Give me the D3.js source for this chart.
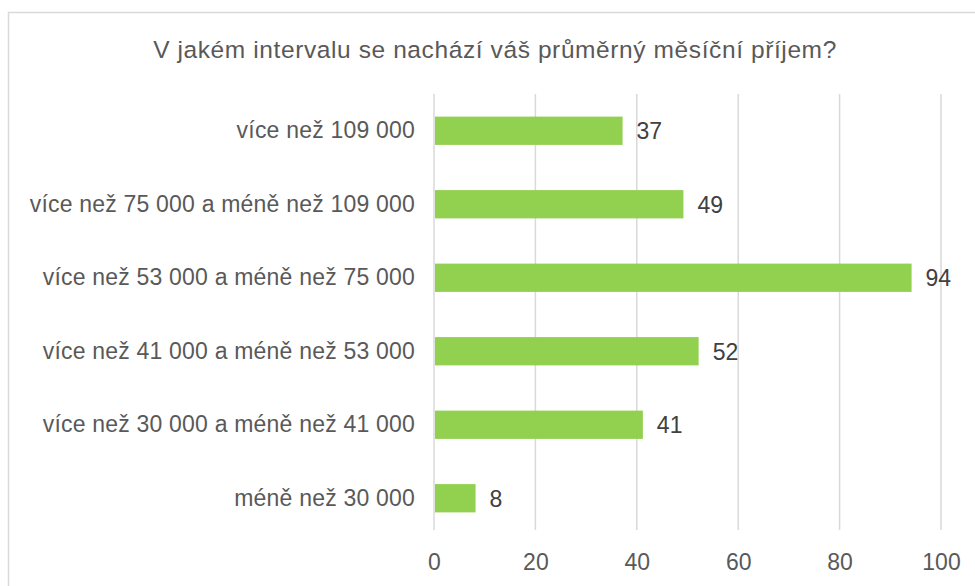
<!DOCTYPE html>
<html>
<head>
  <style>
    body { margin: 0; background: #fff; }
    svg { display: block; font-family: "Liberation Sans", Arial, sans-serif; }
  </style>
</head>
<body>
  <script src="https://cdn.jsdelivr.net/npm/d3@7/dist/d3.min.js"></script>
  <script>
    const title = 'V jakém intervalu se nachází váš průměrný měsíční příjem?';
    const categories = [
      'více než 109 000',
      'více než 75 000 a méně než 109 000',
      'více než 53 000 a méně než 75 000',
      'více než 41 000 a méně než 53 000',
      'více než 30 000 a méně než 41 000',
      'méně než 30 000'
    ];
    const values = [37, 49, 94, 52, 41, 8];
    const ticks = [0, 20, 40, 60, 80, 100];

    const width = 975;
    const height = 586;
    const margin = { top: 94, right: 34, bottom: 51, left: 434 };

    const svg = d3.select('body')
      .append('svg')
      .attr('width', width)
      .attr('height', height);

    // chart frame
    svg.append('rect')
      .attr('x', 8.5)
      .attr('y', 12.5)
      .attr('width', width + 10)
      .attr('height', height + 10)
      .attr('fill', 'none')
      .attr('stroke', '#d9d9d9')
      .attr('stroke-width', 1.5);

    svg.append('text')
      .attr('x', 495)
      .attr('y', 58)
      .attr('text-anchor', 'middle')
      .attr('fill', '#595959')
      .style('font-size', '24.5px')
      .style('letter-spacing', '0.6px')
      .text(title);

    const x = d3.scaleLinear()
      .domain([0, 100])
      .range([margin.left, width - margin.right]);

    const y = d3.scaleBand()
      .domain(categories)
      .range([margin.top, height - margin.bottom])
      .paddingInner(0.615)
      .paddingOuter(0.3075);

    // gridlines
    svg.append('g')
      .selectAll('line')
      .data(ticks)
      .join('line')
      .attr('x1', d => x(d))
      .attr('x2', d => x(d))
      .attr('y1', margin.top)
      .attr('y2', height - margin.bottom - 5)
      .attr('stroke', '#d9d9d9')
      .attr('stroke-width', 1.5);

    // x axis labels
    const xAxis = d3.axisBottom(x).tickValues(ticks).tickSize(0).tickPadding(0);
    svg.append('g')
      .attr('transform', 'translate(0, 554)')
      .call(xAxis)
      .call(g => g.select('.domain').remove())
      .selectAll('text')
      .attr('fill', '#595959')
      .style('font-size', '23px')
      .style('font-family', '"Liberation Sans", Arial, sans-serif');

    // y axis labels
    const yAxis = d3.axisLeft(y).tickSize(0).tickPadding(19);
    svg.append('g')
      .attr('transform', `translate(${margin.left}, 0)`)
      .call(yAxis)
      .call(g => g.select('.domain').remove())
      .selectAll('text')
      .attr('fill', '#595959')
      .style('font-size', '23px')
      .style('letter-spacing', '0.2px')
      .style('font-family', '"Liberation Sans", Arial, sans-serif');

    const rows = categories.map((c, i) => ({ cat: c, val: values[i] }));

    svg.append('g')
      .selectAll('rect')
      .data(rows)
      .join('rect')
      .attr('x', x(0) + 1)
      .attr('y', d => y(d.cat))
      .attr('width', d => x(d.val) - x(0))
      .attr('height', y.bandwidth())
      .attr('fill', '#92d050');

    svg.append('g')
      .selectAll('text')
      .data(rows)
      .join('text')
      .attr('x', d => x(d.val) + 15)
      .attr('y', d => y(d.cat) + y.bandwidth() / 2)
      .attr('dy', '0.36em')
      .attr('fill', '#404040')
      .style('font-size', '23px')
      .text(d => d.val);
  </script>
</body>
</html>
